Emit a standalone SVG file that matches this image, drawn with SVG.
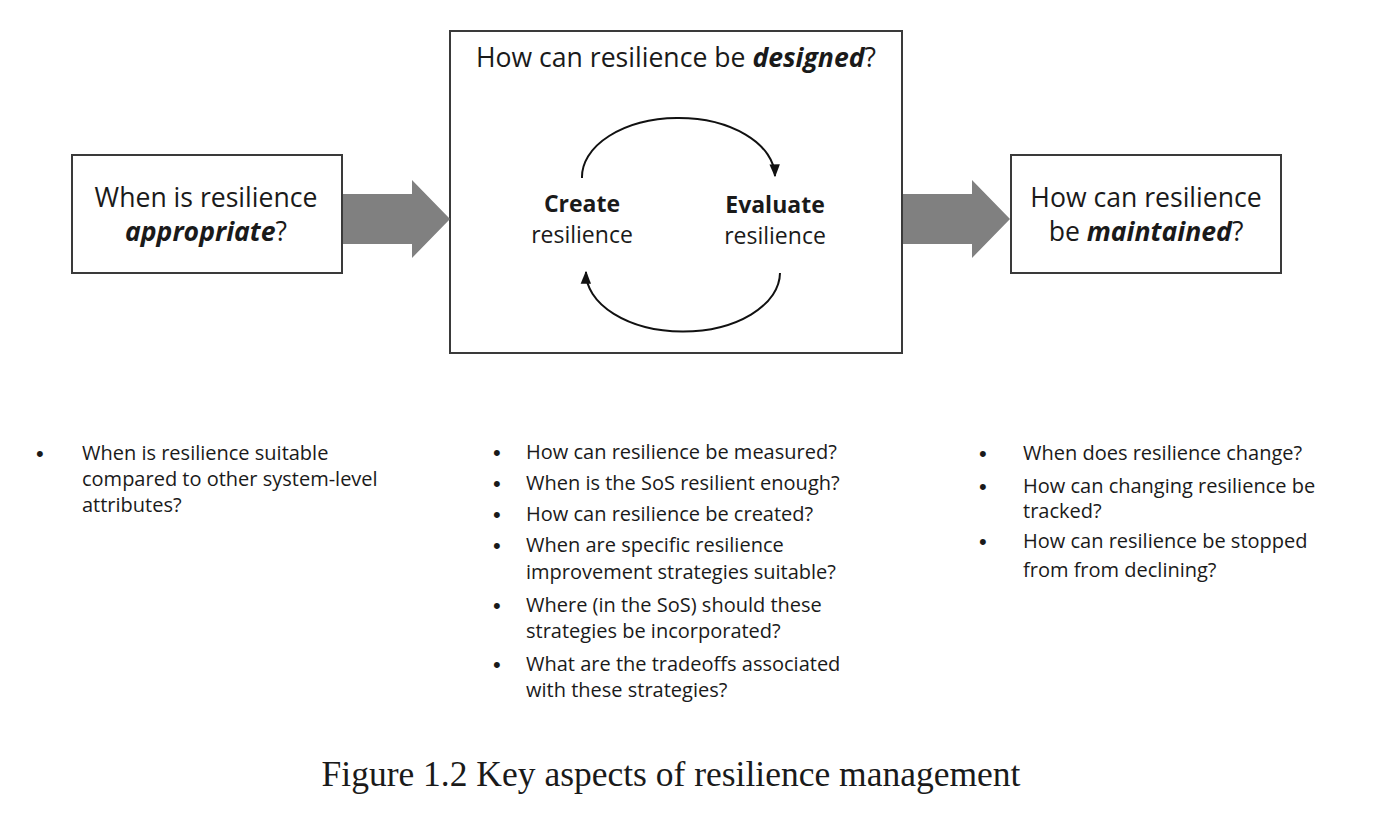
<svg xmlns="http://www.w3.org/2000/svg" width="1399" height="833" viewBox="0 0 1399 833">
<defs>
<style>
.box{fill:#fff;stroke:#3a3a3a;stroke-width:2}
.big{font-family:"Open Sans","Liberation Sans",sans-serif;font-size:26.6px;fill:#1a1a1a;text-anchor:middle}
.mid{font-family:"Open Sans","Liberation Sans",sans-serif;font-size:23px;fill:#1a1a1a;text-anchor:middle}
.bl{font-family:"Open Sans","Liberation Sans",sans-serif;font-size:20px;fill:#1a1a1a}
.dot{font-family:"Liberation Sans",sans-serif;font-size:22px;fill:#1a1a1a}
.bi{font-weight:bold;font-style:italic}
.b{font-weight:bold}
.gray{fill:#808080}
.cyc{fill:none;stroke:#111;stroke-width:2}
.cap{font-family:"Liberation Serif","Times New Roman",serif;font-size:35.5px;fill:#1a1a1a;text-anchor:middle}
</style>
<marker id="ah2" viewBox="0 0 10 10" refX="9" refY="5" markerWidth="13" markerHeight="13" orient="auto" markerUnits="userSpaceOnUse">
<path d="M0,1 L10,5 L0,9 z" fill="#111"/>
</marker>
</defs>
<rect width="1399" height="833" fill="#fff"/>
<g id="node-appropriate">
<rect class="box" x="72" y="155" width="270" height="118"/>
<text class="big" x="206" y="207">When is resilience</text>
<text class="big" x="206" y="241"><tspan class="bi">appropriate</tspan>?</text>
</g>
<g id="node-designed">
<rect class="box" x="450" y="31" width="452" height="322"/>
<text class="big" x="676" y="67">How can resilience be <tspan class="bi">designed</tspan>?</text>
</g>
<g id="node-create">
<text class="mid" x="582" y="212"><tspan class="b">Create</tspan></text>
<text class="mid" x="582" y="243">resilience</text>
</g>
<g id="node-evaluate">
<text class="mid" x="775" y="213"><tspan class="b">Evaluate</tspan></text>
<text class="mid" x="775" y="244">resilience</text>
</g>
<g id="node-maintained">
<rect class="box" x="1011" y="155" width="270" height="118"/>
<text class="big" x="1146" y="207">How can resilience</text>
<text class="big" x="1146" y="241">be <tspan class="bi">maintained</tspan>?</text>
</g>
<g id="connectors">
<polygon class="gray" points="343,194 412,194 412,180 450,219 412,258 412,244 343,244"/>
<polygon class="gray" points="903,194 972,194 972,180 1010,219 972,258 972,244 903,244"/>
<path class="cyc" d="M582,178 A96.5,59 0 0 1 775,176" marker-end="url(#ah2)"/>
<path class="cyc" d="M780,273 A97,59 0 0 1 586,272" marker-end="url(#ah2)"/>
</g>
<g id="list-appropriate" class="bl">
<text class="dot" x="36" y="461">•</text>
<text x="82" y="460">When is resilience suitable</text>
<text x="82" y="486">compared to other system-level</text>
<text x="82" y="512">attributes?</text>
</g>
<g id="list-designed" class="bl">
<text class="dot" x="493" y="460">•</text><text x="526" y="459">How can resilience be measured?</text>
<text class="dot" x="493" y="491">•</text><text x="526" y="490">When is the SoS resilient enough?</text>
<text class="dot" x="493" y="522">•</text><text x="526" y="521">How can resilience be created?</text>
<text class="dot" x="493" y="553">•</text><text x="526" y="552">When are specific resilience</text>
<text x="526" y="579">improvement strategies suitable?</text>
<text class="dot" x="493" y="613">•</text><text x="526" y="612">Where (in the SoS) should these</text>
<text x="526" y="638">strategies be incorporated?</text>
<text class="dot" x="493" y="672">•</text><text x="526" y="671">What are the tradeoffs associated</text>
<text x="526" y="697">with these strategies?</text>
</g>
<g id="list-maintained" class="bl">
<text class="dot" x="979" y="461">•</text><text x="1023" y="460">When does resilience change?</text>
<text class="dot" x="979" y="494">•</text><text x="1023" y="493">How can changing resilience be</text>
<text x="1023" y="518">tracked?</text>
<text class="dot" x="979" y="549">•</text><text x="1023" y="548">How can resilience be stopped</text>
<text x="1023" y="577">from from declining?</text>
</g>
<text class="cap" x="671" y="786">Figure 1.2 Key aspects of resilience management</text>
</svg>
